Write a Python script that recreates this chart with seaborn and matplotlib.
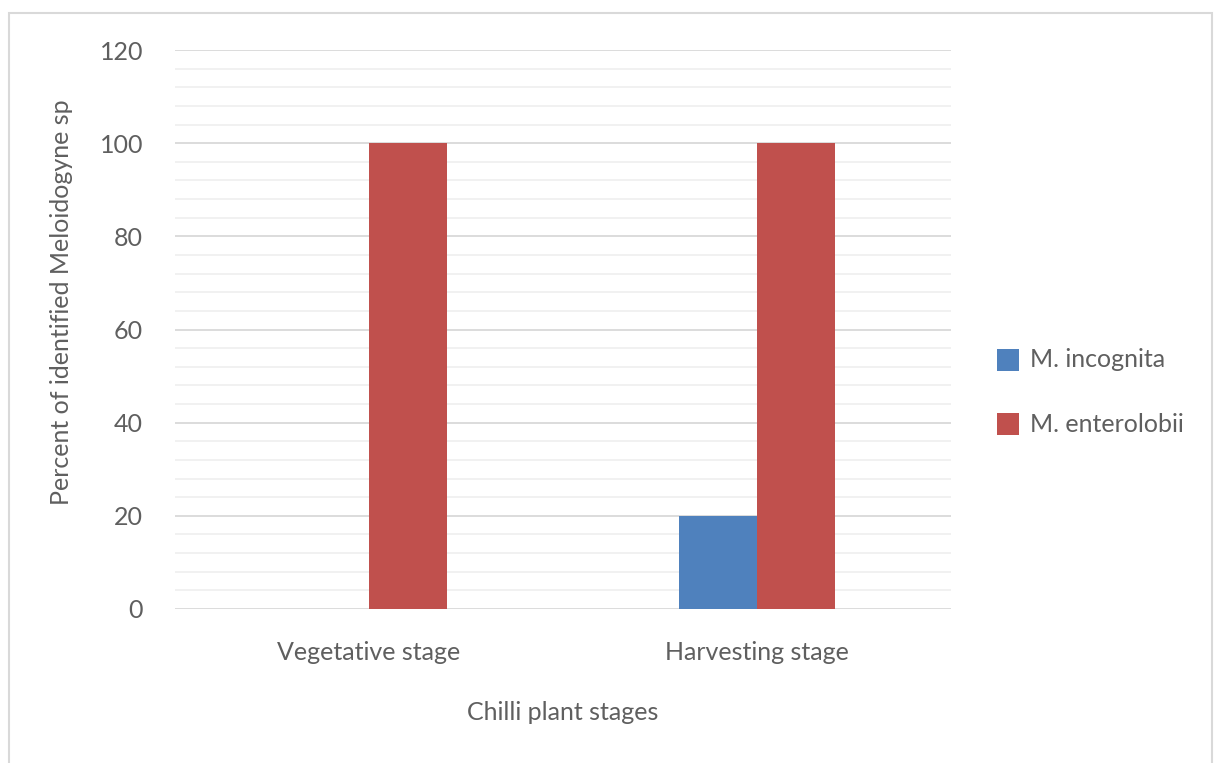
import matplotlib
matplotlib.use("Agg")
import matplotlib.pyplot as plt
from matplotlib.patches import Rectangle
from matplotlib.ticker import MultipleLocator
import pandas as pd
import seaborn as sns

stages = ["Vegetative stage", "Harvesting stage"]
species = ["M. incognita", "M. enterolobii"]
m_incognita = [0, 20]
m_enterolobii = [100, 100]
colors = ["#4f81bd", "#c0504d"]

df = pd.DataFrame({
    "stage": stages * 2,
    "species": [species[0]] * 2 + [species[1]] * 2,
    "value": m_incognita + m_enterolobii,
})

sns.set_theme(style="white")
plt.rcParams["font.family"] = ["Lato", "DejaVu Sans"]
text_color = "#5f5f5f"
fs = 18

fig = plt.figure(figsize=(12.14, 7.63), dpi=100)
fig.patches.append(Rectangle((9 / 1214, -0.01), 1203 / 1214, 1 - 13 / 763 + 0.01,
                             transform=fig.transFigure, fill=False,
                             edgecolor="#d9d9d9", linewidth=1.5))
ax = fig.add_axes([175 / 1214, 1 - 609 / 763, 776 / 1214, 559 / 763])

sns.barplot(data=df, x="stage", y="value", hue="species", palette=colors,
            width=0.4, ax=ax, saturation=1, errorbar=None, legend=False,
            linewidth=0)

ax.set_ylim(0, 120)
ax.set_xlim(-0.5, 1.5)
ax.yaxis.set_major_locator(MultipleLocator(20))
ax.yaxis.set_minor_locator(MultipleLocator(4))
ax.grid(which="major", axis="y", color="#d9d9d9", linewidth=1.3)
ax.grid(which="minor", axis="y", color="#f0f0f0", linewidth=1.3)
ax.set_axisbelow(True)
for s in ax.spines.values():
    s.set_visible(False)
ax.tick_params(axis="both", which="both", length=0, colors=text_color,
               labelsize=fs)
ax.tick_params(axis="y", pad=23)
ax.tick_params(axis="x", pad=23)
ax.set_xlabel("")
ax.set_ylabel("")

fig.text(563 / 1214, 1 - 712 / 763, "Chilli plant stages", ha="center",
         va="center", fontsize=fs, color=text_color)
fig.text(62 / 1214, 1 - 302 / 763, "Percent of identified Meloidogyne sp",
         ha="center", va="center", rotation=90, fontsize=fs,
         color=text_color)

# legend
for i, (name, c) in enumerate(zip(species, colors)):
    yc = 360 + 64 * i
    fig.patches.append(Rectangle((997 / 1214, 1 - (yc + 11) / 763), 22 / 1214,
                                 22 / 763, transform=fig.transFigure,
                                 facecolor=c, edgecolor="none"))
    fig.text(1030 / 1214, 1 - yc / 763, name, ha="left", va="center",
             fontsize=fs, color=text_color)

fig.savefig("out.png", dpi=100, facecolor="white")
